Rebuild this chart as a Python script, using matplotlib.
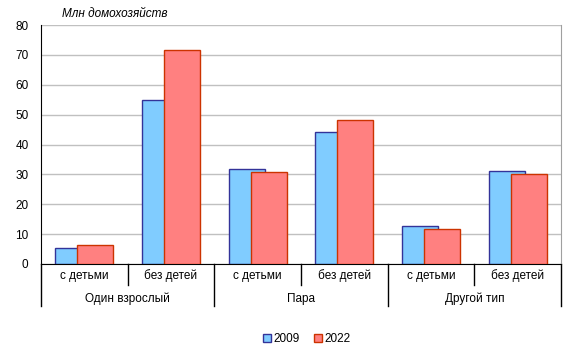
import matplotlib
matplotlib.use("Agg")
import matplotlib.pyplot as plt
from matplotlib.patches import Patch
import matplotlib.transforms as mtransforms
import numpy as np

plt.rcParams['font.family'] = ['Liberation Sans', 'DejaVu Sans']

subcats = ["с детьми", "без детей", "с детьми", "без детей", "с детьми", "без детей"]
groups = ["Один взрослый", "Пара", "Другой тип"]
series_names = ["2009", "2022"]
v2009 = [5.3, 55.0, 31.7, 44.2, 12.6, 31.0]
v2022 = [6.2, 71.7, 30.7, 48.2, 11.6, 30.0]
yticks = [0, 10, 20, 30, 40, 50, 60, 70, 80]

W, H = 574, 358
fig = plt.figure(figsize=(W/100, H/100), dpi=100)
L, R, T, B = 41, 561, 25, 264
ax = fig.add_axes([L/W, (H-B)/H, (R-L)/W, (B-T)/H])

x = np.arange(len(subcats))
bw = 0.415
off = 0.127
blue_fc, blue_ec = "#80CCFF", "#333399"
red_fc, red_ec = "#FF8080", "#CC3300"
ax.bar(x - off, v2009, width=bw, color=blue_fc, edgecolor=blue_ec, linewidth=1.0, zorder=2)
ax.bar(x + off, v2022, width=bw, color=red_fc, edgecolor=red_ec, linewidth=1.0, zorder=3)

ax.set_xlim(-0.5, len(subcats) - 0.5)
ax.set_ylim(0, 80)
ax.set_yticks(yticks)
ax.yaxis.grid(True, color="#C0C0C0", linewidth=1.0, zorder=0)
ax.set_axisbelow(True)
ax.tick_params(axis='y', length=0, pad=9, labelsize=8.5)
ax.set_xticks([])
for s in ["top"]:
    ax.spines[s].set_visible(False)
ax.spines["right"].set_color("#A0A0A0")
ax.spines["left"].set_color("black")
ax.spines["bottom"].set_color("black")

trans = mtransforms.blended_transform_factory(ax.transData, ax.transAxes)
h = B - T
y1 = -(285 - B) / h
y2 = -(306 - B) / h
for i, lab in enumerate(subcats):
    ax.text(i, -(276 - B) / h, lab, transform=trans, ha="center", va="center", fontsize=8.5)
for xs in [0.5, 2.5, 4.5]:
    ax.plot([xs, xs], [0, y1], transform=trans, color="black", lw=1, clip_on=False)
for xs in [-0.5, 1.5, 3.5, 5.5]:
    ax.plot([xs, xs], [0, y2], transform=trans, color="black", lw=1, clip_on=False)
for j, g in enumerate(groups):
    ax.text(2*j + 0.5, -(299 - B) / h, g, transform=trans, ha="center", va="center", fontsize=8.5)

fig.text(62/W, 1 - 14/H, "Млн домохозяйств", ha="left", va="center", fontsize=8.5, style="italic")

handles = [Patch(facecolor=blue_fc, edgecolor=blue_ec, label=series_names[0]),
           Patch(facecolor=red_fc, edgecolor=red_ec, label=series_names[1])]
fig.legend(handles=handles, loc="center", bbox_to_anchor=(0.535, 1 - 339/H), ncol=2,
           frameon=False, fontsize=8.5, handlelength=0.7, handleheight=0.7,
           handletextpad=0.2, columnspacing=1.2)

fig.savefig("out.png", dpi=100)
